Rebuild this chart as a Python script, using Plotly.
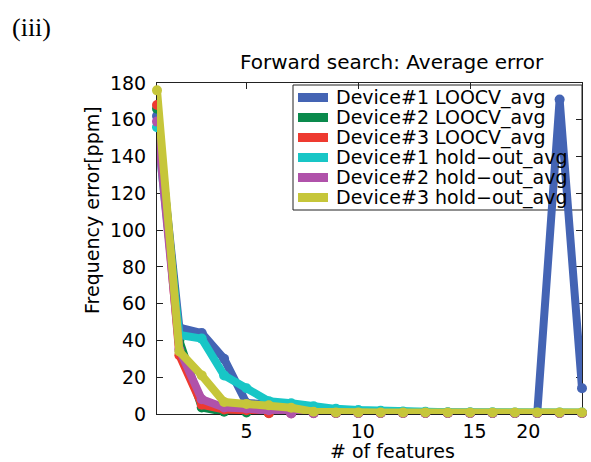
import plotly.graph_objects as go

features = list(range(1, 21))

d1_loocv = [162, 47, 44, 30, 6, 5.5, 5, 3.5, 2, 1.5, 1.2, 1, 1, 0.8, 0.7, 0.6, 0.5, 0.5, 171, 14]
d2_loocv = [166, 40, 3.5, 1.2, 0.8, 0.5, 0.5, 0.5, 0.5, 0.5, 0.5, 0.5, 0.5, 0.5, 0.5, 0.5, 0.5, 0.5, 0.5, 0.5]
d3_loocv = [168, 32, 5, 2.5, 2, 0.4, 0.4, 0.5, 0.5, 0.5, 0.5, 0.5, 0.5, 0.5, 0.5, 0.5, 0.5, 0.5, 0.5, 0.5]
d1_hold = [156, 43, 41, 21, 14, 7, 5.8, 4.2, 2.8, 2.2, 1.7, 1.4, 1.2, 1.0, 1.0, 0.9, 0.8, 0.8, 0.8, 0.8]
d2_hold = [159, 35, 8, 3.5, 3, 2, 0.3, 0.4, 0.5, 0.5, 0.5, 0.5, 0.5, 0.5, 0.5, 0.5, 0.5, 0.5, 0.5, 0.5]
d3_hold = [176, 34, 21, 6.5, 5.5, 4.8, 3.4, 1.2, 0.8, 0.8, 0.8, 0.8, 0.8, 0.8, 0.8, 0.8, 0.8, 0.8, 0.8, 0.8]

series_names = ["Device#1 LOOCV_avg", "Device#2 LOOCV_avg", "Device#3 LOOCV_avg",
                "Device#1 hold\u2212out_avg", "Device#2 hold\u2212out_avg", "Device#3 hold\u2212out_avg"]
series_values = [d1_loocv, d2_loocv, d3_loocv, d1_hold, d2_hold, d3_hold]
series_colors = ["#4464b4", "#0a8a4c", "#ee3a30", "#18c6c6", "#b052aa", "#c6c63a"]

x_tick_vals = [5, 10, 15, 20]
x_label_pos = [5, 10.2, 15.2, 17.6]
x_tick_text = ["5", "10", "15", "20"]
y_tick_vals = [0, 20, 40, 60, 80, 100, 120, 140, 160, 180]

FONT = "DejaVu Sans"
W, H = 591, 462
L, R, T, B = 157, 582, 83, 414

def px(x):
    return (x - L) / (R - L)

def py(y):
    return (B - y) / (B - T)

fig = go.Figure()
for name, vals, col in zip(series_names, series_values, series_colors):
    fig.add_trace(go.Scatter(
        x=features, y=vals, name=name, mode="lines+markers",
        line=dict(color=col, width=8),
        marker=dict(color=col, size=10),
        cliponaxis=False, showlegend=False,
    ))

# invisible trace on secondary x axis carrying tick labels
fig.add_trace(go.Scatter(x=[1, 20], y=[0, 0], xaxis="x2", mode="markers",
                         marker=dict(opacity=0), showlegend=False, hoverinfo="skip"))

axis_common = dict(showline=True, linecolor="#222", linewidth=1, mirror="ticks",
                   ticks="inside", ticklen=6, tickcolor="#222", showgrid=False,
                   zeroline=False, layer="below traces",
                   tickfont=dict(family=FONT, size=19, color="black"))

fig.update_layout(
    width=W, height=H,
    margin=dict(l=L, r=W - R, t=T, b=H - B),
    paper_bgcolor="white", plot_bgcolor="white",
    font=dict(family=FONT, size=19, color="black"),
    xaxis=dict(range=[1, 20], tickvals=x_tick_vals, showticklabels=False, **axis_common),
    xaxis2=dict(range=[1, 20], overlaying="x", anchor="y", side="bottom",
                tickvals=x_label_pos, ticktext=x_tick_text, ticks="", showline=False,
                showgrid=False, zeroline=False, ticklabelstandoff=4,
                tickfont=dict(family=FONT, size=19, color="black")),
    yaxis=dict(range=[0, 180], tickvals=y_tick_vals, ticklabelstandoff=6, **axis_common),
)

annotations = [
    dict(text="Forward search: Average error", x=px(391.5), y=py(62), xref="paper", yref="paper",
         showarrow=False, xanchor="center", yanchor="middle", font=dict(family=FONT, size=20)),
    dict(text="Frequency error[ppm]", x=px(92), y=py(210), xref="paper", yref="paper",
         showarrow=False, textangle=-90, xanchor="center", yanchor="middle",
         font=dict(family=FONT, size=19)),
    dict(text="# of features", x=px(392), y=py(451), xref="paper", yref="paper",
         showarrow=False, xanchor="center", yanchor="middle", font=dict(family=FONT, size=19)),
    dict(text="(iii)", x=px(31), y=py(27), xref="paper", yref="paper",
         showarrow=False, xanchor="center", yanchor="middle",
         font=dict(family="Liberation Serif", size=26)),
]

shapes = [dict(type="rect", xref="paper", yref="paper", x0=px(293), x1=px(582),
               y0=py(210), y1=py(85), line=dict(color="#222", width=1),
               fillcolor="white", layer="below")]

row_y = [97.5, 117.5, 137.5, 157.5, 177.5, 197.5]
for name, col, ry in zip(series_names, series_colors, row_y):
    shapes.append(dict(type="line", xref="paper", yref="paper", x0=px(298), x1=px(328),
                       y0=py(ry), y1=py(ry), line=dict(color=col, width=9), layer="below"))
    annotations.append(dict(text=name, x=px(334), y=py(ry), xref="paper", yref="paper",
                            showarrow=False, xanchor="left", yanchor="middle",
                            font=dict(family=FONT, size=19)))

fig.update_layout(annotations=annotations, shapes=shapes)
fig.write_html("out.html")
